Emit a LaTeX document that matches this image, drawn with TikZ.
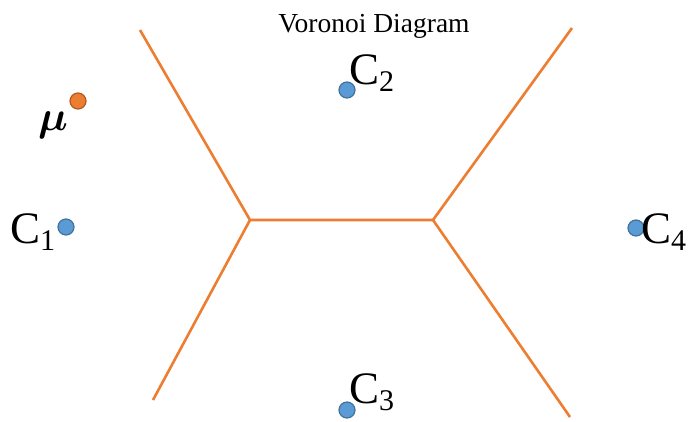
\documentclass[tikz,border=0pt]{standalone}
\usepackage{fontspec}
\setmainfont{Liberation Serif}
\usetikzlibrary{positioning}
\definecolor{edgeorange}{RGB}{237,125,49}
\definecolor{siteblue}{RGB}{91,155,213}
\definecolor{siteline}{RGB}{65,113,156}
\definecolor{meanline}{RGB}{174,90,33}
\newcommand{\sitelab}[1]{C\raisebox{-7pt}{\fontsize{30}{30}\selectfont #1}}

\begin{document}
\begin{tikzpicture}[x=1pt, y=-1pt,
  site/.style={circle, draw=siteline, fill=siteblue, line width=1.2pt,
               minimum size=16pt, inner sep=0pt},
  mean/.style={circle, draw=meanline, fill=edgeorange, line width=1.2pt,
               minimum size=16pt, inner sep=0pt},
  sitetext/.style={anchor=base west, inner sep=0pt,
                   font=\fontsize{45}{45}\selectfont},
  edge/.style={edgeorange, line width=2.6pt},
]
\useasboundingbox (0,0) rectangle (688,421);

\node[font=\fontsize{27.5}{27.5}\selectfont, anchor=base] (title) at (374,32) {Voronoi Diagram};

% sites
\node[site] (c1) at (66,227) {};
\node[site] (c2) at (347,90) {};
\node[site] (c3) at (347,410) {};
\node[site] (c4) at (636,228) {};
\node[mean] (mu) at (78,101) {};

\node[sitetext] (c1lab) at (10,243) {\sitelab{1}};
\node[sitetext] (c2lab) at (349,84) {\sitelab{2}};
\node[sitetext] (c3lab) at (349,403) {\sitelab{3}};
\node[sitetext] (c4lab) at (641,243) {\sitelab{4}};
\node[sitetext, font=\normalsize] (mulab) at (38,130) {\scalebox{4.2}{\boldmath$\mu$}};

% cell borders
\coordinate (v1) at (250,220);
\coordinate (v2) at (433,220);
\coordinate (e1) at (140,30);
\coordinate (e2) at (572,28);
\coordinate (e3) at (153,400);
\coordinate (e4) at (570,417);

\draw[edge] (e1) -- (v1) -- (v2) -- (e2);
\draw[edge] (v1) -- (e3);
\draw[edge] (v2) -- (e4);

\end{tikzpicture}
\end{document}
